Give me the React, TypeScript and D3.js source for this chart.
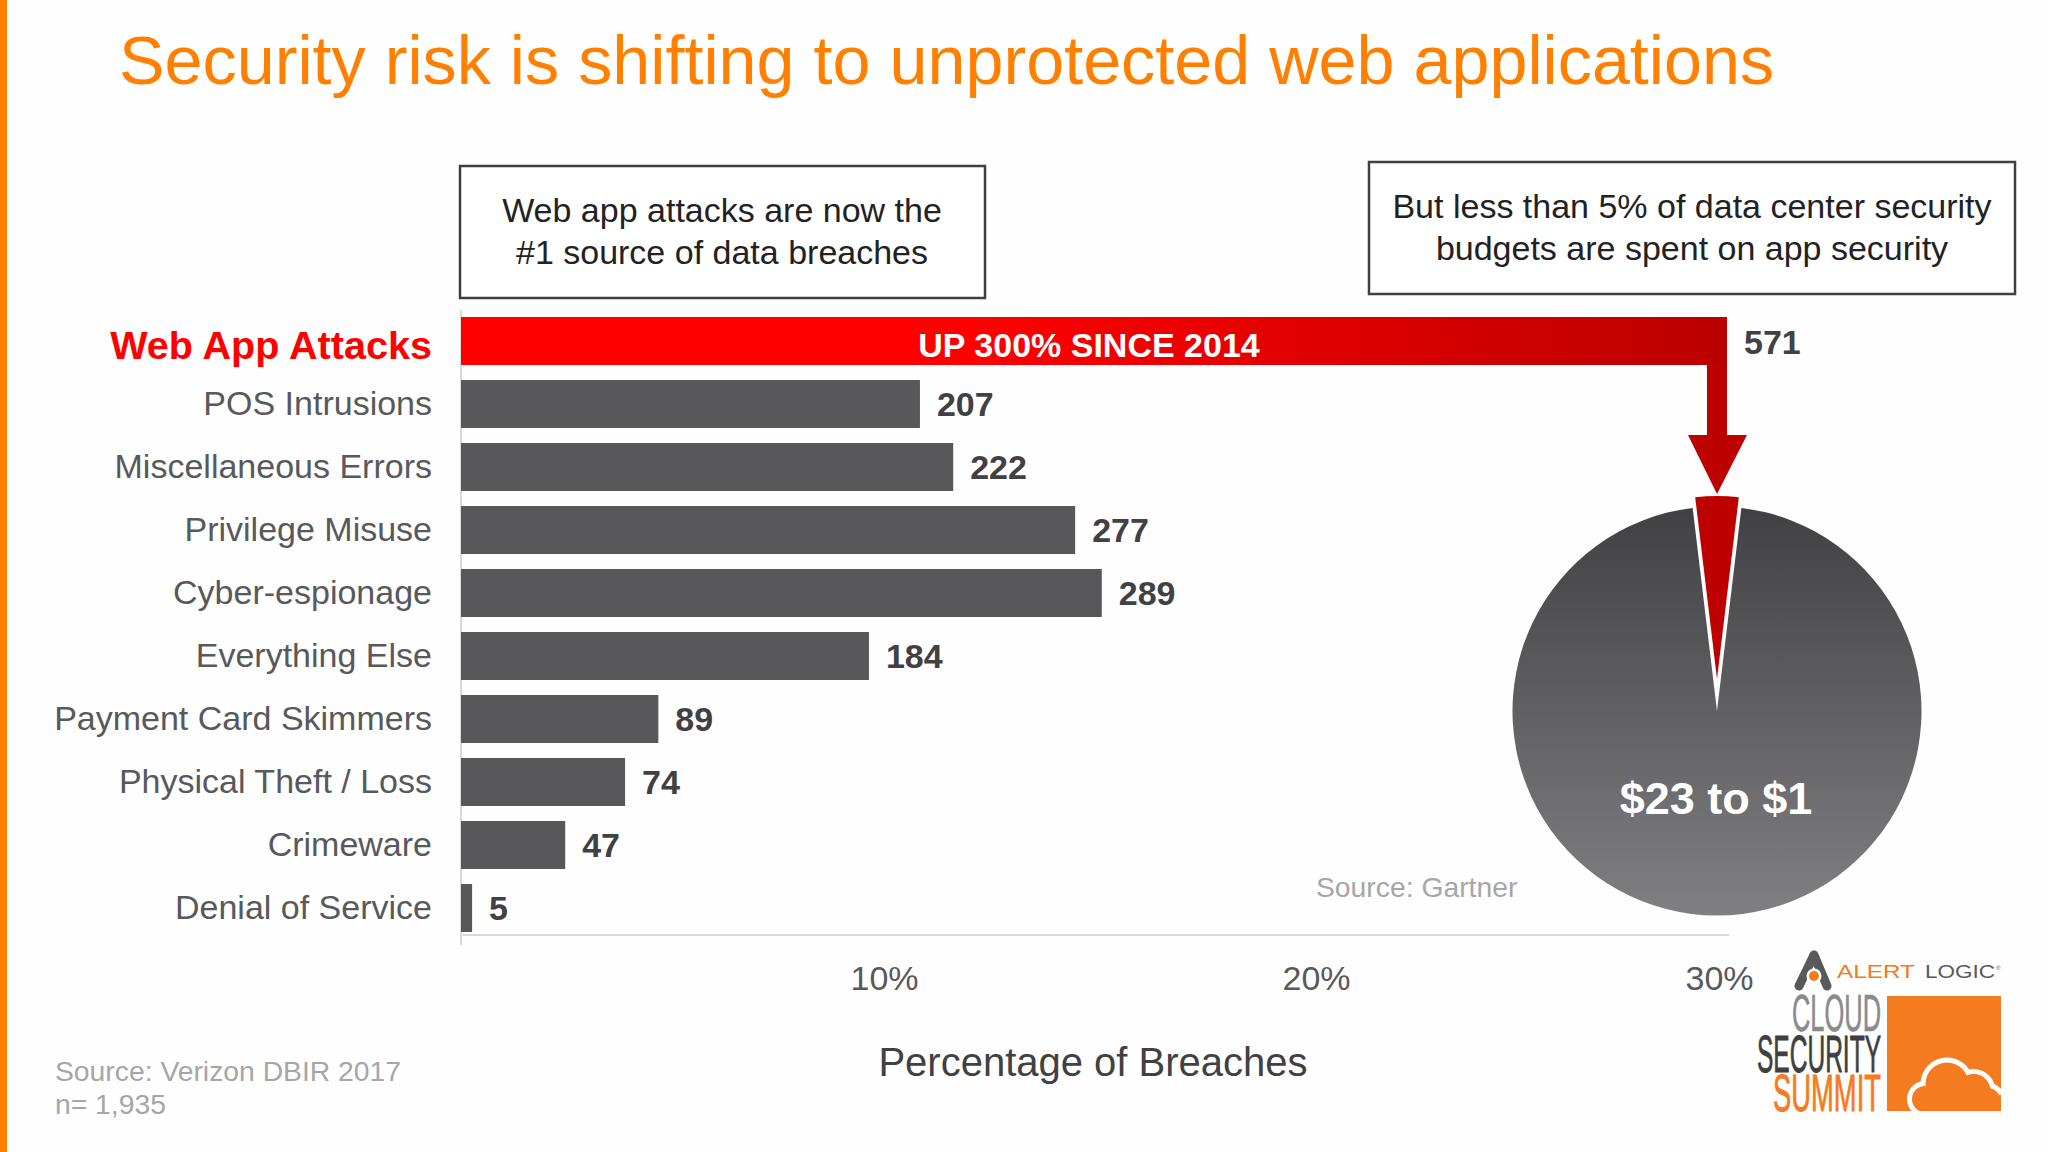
import * as d3 from "d3";
import { useEffect, useRef } from "react";

const categories = [
  "Web App Attacks",
  "POS Intrusions",
  "Miscellaneous Errors",
  "Privilege Misuse",
  "Cyber-espionage",
  "Everything Else",
  "Payment Card Skimmers",
  "Physical Theft / Loss",
  "Crimeware",
  "Denial of Service",
];
const breaches = [571, 207, 222, 277, 289, 184, 89, 74, 47, 5];
const totalBreaches = 1935;
const percentTicks = [10, 20, 30];
const tickNudges = [-6, -3, -29]; // the slide's labels don't sit quite on the scale
const budgetShares = [96.2, 3.8]; // everything else, app security (as drawn)

const FONT = "'Liberation Sans', Arial, sans-serif";
const NARROW = "'Liberation Sans Narrow', 'Liberation Sans', sans-serif";
const ORANGE = "#ff8000";
const LOGO_ORANGE = "#f47b20";

export default function App() {
  const svgRef = useRef(null);

  useEffect(() => {
    const svg = d3.select(svgRef.current);
    svg.selectAll("*").remove();
    svg.style("font-family", FONT);

    const x = d3.scaleLinear().domain([0, 571]).range([461, 1727]);
    const xPercent = d3
      .scaleLinear()
      .domain([0, 100])
      .range([x(0), x(totalBreaches)]);
    const y = d3
      .scaleBand()
      .domain(categories)
      .range([317, 932])
      .paddingInner(0.238);

    const defs = svg.append("defs");
    const redGrad = defs.append("linearGradient").attr("id", "redBar");
    redGrad.append("stop").attr("offset", "0.4").attr("stop-color", "#ff0000");
    redGrad.append("stop").attr("offset", "1").attr("stop-color", "#bb0000");
    const pieGrad = defs
      .append("linearGradient")
      .attr("id", "pieGrey")
      .attr("x1", 0)
      .attr("x2", 0)
      .attr("y1", 0)
      .attr("y2", 1);
    pieGrad.append("stop").attr("offset", "0").attr("stop-color", "#414042");
    pieGrad.append("stop").attr("offset", "1").attr("stop-color", "#807f82");
    defs
      .append("clipPath")
      .attr("id", "logoSquare")
      .append("rect")
      .attr("x", 1887)
      .attr("y", 996)
      .attr("width", 114)
      .attr("height", 115);

    // page
    svg
      .append("rect")
      .attr("width", 2048)
      .attr("height", 1152)
      .attr("fill", "#fefefe");
    svg
      .append("rect")
      .attr("width", 7)
      .attr("height", 1152)
      .attr("fill", ORANGE);
    svg
      .append("text")
      .attr("x", 119)
      .attr("y", 84)
      .attr("font-size", 68.3)
      .attr("fill", ORANGE)
      .text("Security risk is shifting to unprotected web applications");

    // callout boxes
    const boxes = [
      {
        x0: 460,
        y0: 166,
        w: 525,
        h: 132,
        cx: 722,
        lines: ["Web app attacks are now the", "#1 source of data breaches"],
      },
      {
        x0: 1369,
        y0: 162,
        w: 646,
        h: 132,
        cx: 1692,
        lines: [
          "But less than 5% of data center security",
          "budgets are spent on app security",
        ],
      },
    ];
    boxes.forEach((b) => {
      svg
        .append("rect")
        .attr("x", b.x0)
        .attr("y", b.y0)
        .attr("width", b.w)
        .attr("height", b.h)
        .attr("fill", "#ffffff")
        .attr("stroke", "#3f3f41")
        .attr("stroke-width", 2.5);
      b.lines.forEach((line, i) => {
        svg
          .append("text")
          .attr("x", b.cx)
          .attr("y", b.y0 + 56 + i * 42)
          .attr("text-anchor", "middle")
          .attr("font-size", 34)
          .attr("fill", "#222222")
          .text(line);
      });
    });

    // baseline and vertical axis
    svg
      .append("line")
      .attr("x1", x(0))
      .attr("x2", x(0) + 1268)
      .attr("y1", 935)
      .attr("y2", 935)
      .attr("stroke", "#d9d9d9")
      .attr("stroke-width", 2);
    svg
      .append("line")
      .attr("x1", x(0))
      .attr("x2", x(0))
      .attr("y1", 310)
      .attr("y2", 945)
      .attr("stroke", "#d9d9d9")
      .attr("stroke-width", 2);

    // category labels
    const yAxis = svg
      .append("g")
      .attr("transform", "translate(432,0)")
      .call(d3.axisLeft(y).tickSize(0).tickPadding(0));
    yAxis.select(".domain").remove();
    yAxis
      .selectAll("text")
      .attr("font-family", FONT)
      .attr("font-size", (d) => (d === categories[0] ? 39.6 : 34))
      .attr("font-weight", (d) => (d === categories[0] ? "bold" : "normal"))
      .attr("fill", (d) => (d === categories[0] ? "#ff0000" : "#58595b"))
      .attr("dy", (d) => (d === categories[0] ? "0.45em" : "0.33em"));

    // bars
    const rows = categories.map((name, i) => ({ name, value: breaches[i] }));
    svg
      .selectAll("rect.bar")
      .data(rows)
      .enter()
      .append("rect")
      .attr("class", "bar")
      .attr("x", x(0))
      .attr("y", (d) => y(d.name))
      .attr("width", (d) => x(d.value) - x(0))
      .attr("height", y.bandwidth())
      .attr("fill", (d, i) => (i === 0 ? "url(#redBar)" : "#58585a"));
    svg
      .selectAll("text.value")
      .data(rows)
      .enter()
      .append("text")
      .attr("class", "value")
      .attr("x", (d) => x(d.value) + 17)
      .attr(
        "y",
        (d, i) => y(d.name) + y.bandwidth() / 2 + (i === 0 ? 13 : 12),
      )
      .attr("font-size", 34)
      .attr("font-weight", "bold")
      .attr("fill", "#414042")
      .text((d) => d.value);
    svg
      .append("text")
      .attr("x", 1089)
      .attr("y", y(categories[0]) + 40)
      .attr("text-anchor", "middle")
      .attr("font-size", 34)
      .attr("font-weight", "bold")
      .attr("fill", "#ffffff")
      .text("UP 300% SINCE 2014");

    // x axis labels
    const xAxis = svg
      .append("g")
      .attr("transform", "translate(0,977)")
      .call(
        d3
          .axisBottom(xPercent)
          .tickValues(percentTicks)
          .tickSize(0)
          .tickPadding(0)
          .tickFormat((d) => d + "%"),
      );
    xAxis.select(".domain").remove();
    xAxis
      .selectAll("text")
      .attr("font-family", FONT)
      .attr("font-size", 34)
      .attr("fill", "#58595b")
      .attr("y", 13)
      .attr("dy", 0)
      .attr("dx", (d, i) => tickNudges[i]);
    svg
      .append("text")
      .attr("x", 1093)
      .attr("y", 1076)
      .attr("text-anchor", "middle")
      .attr("font-size", 40)
      .attr("fill", "#414042")
      .text("Percentage of Breaches");

    // pie
    const cx = 1717;
    const cy = 711;
    const r = 204.5;
    const pie = d3
      .pie()
      .sort(null)
      .startAngle((budgetShares[1] / 100) * Math.PI)
      .endAngle(2 * Math.PI + (budgetShares[1] / 100) * Math.PI);
    const slices = pie(budgetShares);
    const arc = d3.arc();
    svg
      .append("path")
      .attr("transform", `translate(${cx},${cy})`)
      .attr(
        "d",
        arc({
          innerRadius: 0,
          outerRadius: r,
          startAngle: slices[0].startAngle,
          endAngle: slices[0].endAngle,
        }),
      )
      .attr("fill", "url(#pieGrey)");
    // app security wedge pulled up out of the pie
    svg
      .append("path")
      .attr("transform", `translate(${cx},${cy - 32})`)
      .attr(
        "d",
        arc({
          innerRadius: 0,
          outerRadius: 183,
          startAngle: slices[1].startAngle,
          endAngle: slices[1].endAngle,
        }),
      )
      .attr("fill", "#bd0000");
    svg
      .append("text")
      .attr("x", cx - 1)
      .attr("y", 814)
      .attr("text-anchor", "middle")
      .attr("font-size", 45)
      .attr("font-weight", "bold")
      .attr("fill", "#ffffff")
      .text("$23 to $1");

    // arrow from the red bar down to the wedge
    const arrow = d3.path();
    arrow.moveTo(1707, 364);
    arrow.lineTo(1727, 364);
    arrow.lineTo(1727, 435);
    arrow.lineTo(1747, 435);
    arrow.lineTo(1717, 494);
    arrow.lineTo(1688, 435);
    arrow.lineTo(1707, 435);
    arrow.closePath();
    svg.append("path").attr("d", arrow.toString()).attr("fill", "#bd0000");

    // sources
    const sources = [
      { x0: 55, y0: 1081, t: "Source: Verizon DBIR 2017" },
      { x0: 55, y0: 1114, t: "n= 1,935" },
      { x0: 1316, y0: 897, t: "Source: Gartner" },
    ];
    svg
      .selectAll("text.source")
      .data(sources)
      .enter()
      .append("text")
      .attr("class", "source")
      .attr("x", (d) => d.x0)
      .attr("y", (d) => d.y0)
      .attr("font-size", 28.3)
      .attr("fill", "#a6a6a6")
      .text((d) => d.t);

    // logo
    const logo = svg.append("g");
    logo
      .append("path")
      .attr("d", "M1814 955 L1799 986 M1814 955 L1827 986")
      .attr("fill", "none")
      .attr("stroke", "#58595b")
      .attr("stroke-width", 9)
      .attr("stroke-linecap", "round");
    logo
      .append("circle")
      .attr("cx", 1814)
      .attr("cy", 976)
      .attr("r", 7.5)
      .attr("fill", "#ffffff");
    logo
      .append("circle")
      .attr("cx", 1814)
      .attr("cy", 976)
      .attr("r", 5)
      .attr("fill", LOGO_ORANGE);
    const logoText = [
      { t: "ALERT", x0: 1837, y0: 978, w: 78, fs: 18, c: LOGO_ORANGE, f: FONT, sw: 0 },
      { t: "LOGIC", x0: 1925, y0: 978, w: 70, fs: 18, c: "#58595b", f: FONT, sw: 0 },
      { t: "CLOUD", x0: 1792, y0: 1031, w: 89, fs: 52, c: "#8a8b8d", f: NARROW, sw: 0.6 },
      { t: "SECURITY", x0: 1757, y0: 1072, w: 124, fs: 52, c: "#3f3f41", f: NARROW, sw: 0.9 },
      { t: "SUMMIT", x0: 1773, y0: 1111, w: 108, fs: 52, c: LOGO_ORANGE, f: NARROW, sw: 0.9 },
    ];
    logoText.forEach((d) => {
      logo
        .append("text")
        .attr("x", d.x0)
        .attr("y", d.y0)
        .attr("font-family", d.f)
        .attr("font-size", d.fs)
        .attr("fill", d.c)
        .attr("stroke", d.c)
        .attr("stroke-width", d.sw)
        .attr("textLength", d.w)
        .attr("lengthAdjust", "spacingAndGlyphs")
        .text(d.t);
    });
    logo
      .append("text")
      .attr("x", 1996)
      .attr("y", 970)
      .attr("font-size", 6)
      .attr("fill", "#58595b")
      .text("®");
    logo
      .append("rect")
      .attr("x", 1887)
      .attr("y", 996)
      .attr("width", 114)
      .attr("height", 115)
      .attr("fill", LOGO_ORANGE);
    const cloud = logo.append("g").attr("clip-path", "url(#logoSquare)");
    const lobes = [
      [1925, 1099, 13],
      [1947, 1084, 21.5],
      [1973.5, 1091, 17],
      [1988, 1100, 12],
    ];
    cloud
      .selectAll("circle.outer")
      .data(lobes)
      .enter()
      .append("circle")
      .attr("class", "outer")
      .attr("cx", (d) => d[0])
      .attr("cy", (d) => d[1])
      .attr("r", (d) => d[2] + 5)
      .attr("fill", "#ffffff");
    cloud
      .append("rect")
      .attr("x", 1925)
      .attr("y", 1095)
      .attr("width", 76)
      .attr("height", 16)
      .attr("fill", LOGO_ORANGE);
    cloud
      .selectAll("circle.inner")
      .data(lobes)
      .enter()
      .append("circle")
      .attr("class", "inner")
      .attr("cx", (d) => d[0])
      .attr("cy", (d) => d[1])
      .attr("r", (d) => d[2])
      .attr("fill", LOGO_ORANGE);
  }, []);

  return (
    <svg
      ref={svgRef}
      width={2048}
      height={1152}
      style={{ position: "absolute", left: 0, top: 0, display: "block" }}
    />
  );
}
